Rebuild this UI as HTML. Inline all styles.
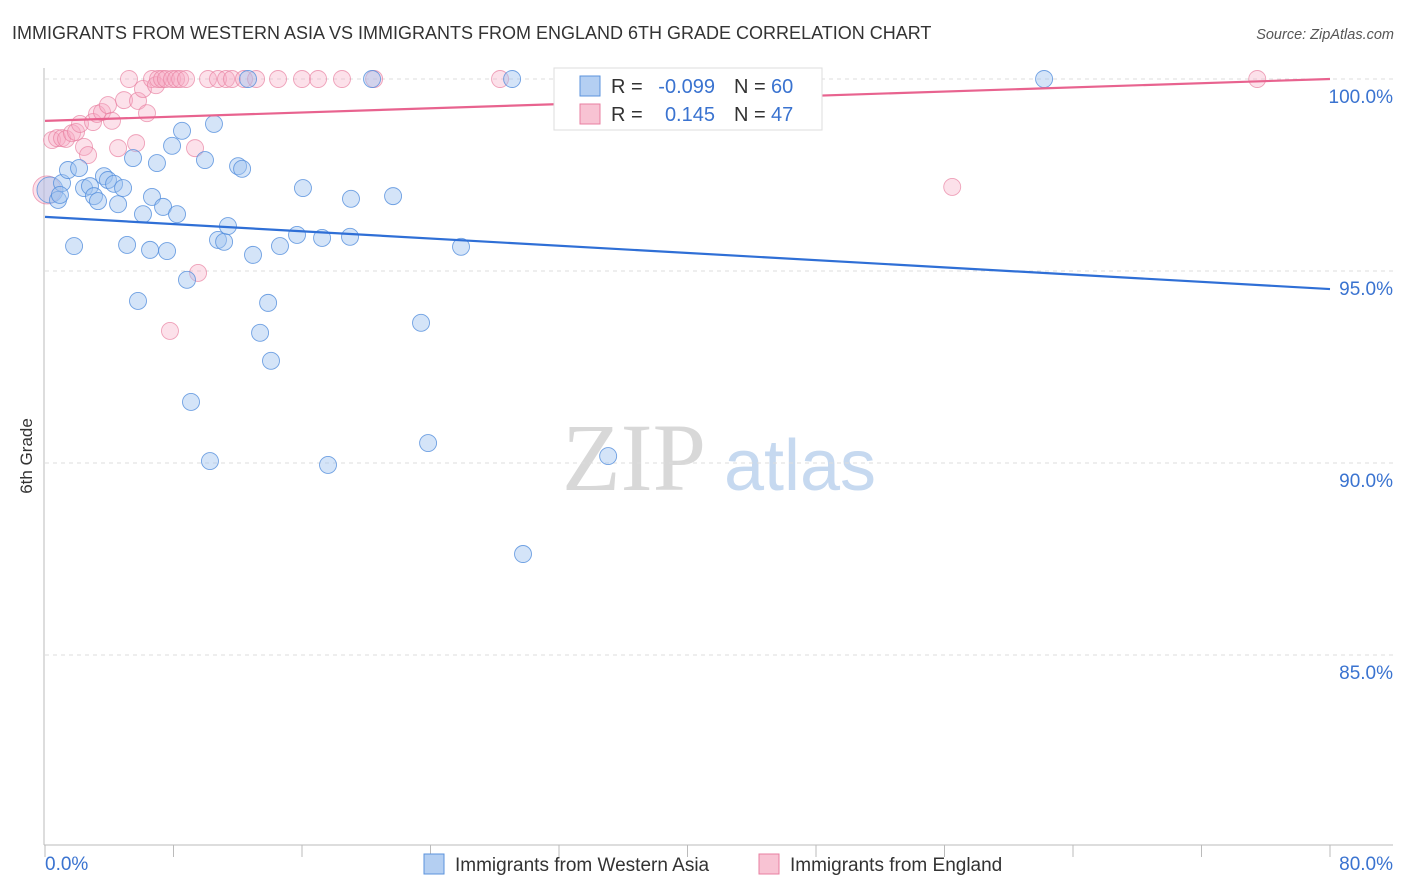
<!DOCTYPE html>
<html><head><meta charset="utf-8"><style>
body{margin:0;background:#fff;font-family:"Liberation Sans",sans-serif}
svg{display:block}
</style></head><body>
<svg id="c" width="1406" height="892" xmlns="http://www.w3.org/2000/svg">
<text x="12" y="39" font-size="18" fill="#333">IMMIGRANTS FROM WESTERN ASIA VS IMMIGRANTS FROM ENGLAND 6TH GRADE CORRELATION CHART</text>
<text x="1394" y="39" font-size="14.5" fill="#555" font-style="italic" text-anchor="end">Source: ZipAtlas.com</text>
<text x="32" y="456" font-size="17" fill="#333" text-anchor="middle" transform="rotate(-90 32 456)">6th Grade</text>
<g>
<text x="634" y="490" font-size="96" font-family="Liberation Serif,serif" fill="#d8d8d8" text-anchor="middle">ZIP</text>
<text x="800" y="490" font-size="72" fill="#c6d9f0" text-anchor="middle">atlas</text>
</g>
<g id="grid"></g><g id="axes"></g><g id="pts"></g><g id="lines"></g>
<g>
<rect x="554" y="68" width="268" height="62" fill="#fff" stroke="#ddd"/>
<rect x="580" y="76" width="20" height="20" fill="#b4cff2" stroke="#5b93dc"/>
<rect x="580" y="104" width="20" height="20" fill="#f8c3d3" stroke="#e87fa0"/>
<text x="611" y="93" font-size="20" fill="#333">R =</text>
<text x="715" y="93" font-size="20" fill="#3a73d0" text-anchor="end">-0.099</text>
<text x="734" y="93" font-size="20" fill="#333">N =</text>
<text x="771" y="93" font-size="20" fill="#3a73d0">60</text>
<text x="611" y="121" font-size="20" fill="#333">R =</text>
<text x="715" y="121" font-size="20" fill="#3a73d0" text-anchor="end">0.145</text>
<text x="734" y="121" font-size="20" fill="#333">N =</text>
<text x="771" y="121" font-size="20" fill="#3a73d0">47</text>
</g>
<g>
<rect x="424" y="854" width="20" height="20" fill="#b4cff2" stroke="#5b93dc"/>
<text x="455" y="871" font-size="19" fill="#333">Immigrants from Western Asia</text>
<rect x="759" y="854" width="20" height="20" fill="#f8c3d3" stroke="#e87fa0"/>
<text x="790" y="871" font-size="19" fill="#333">Immigrants from England</text>
</g>
</svg>
<script>
const blueX=[.31,.81,1.06,1.43,1.81,2.12,2.43,2.80,3.05,3.30,3.67,3.92,4.30,4.55,4.86,5.11,5.48,5.79,6.10,6.54,6.66,6.97,7.35,7.60,7.91,8.22,8.53,8.84,9.09,9.96,10.27,10.52,10.77,11.15,11.39,12.02,12.27,12.64,12.95,13.39,13.89,14.07,14.63,15.69,16.06,17.25,17.62,18.99,19.05,20.36,21.67,23.41,23.85,25.90,29.08,29.76,35.06,42.22,62.20,.93];
const blueY=[97.11,96.85,97.29,97.63,95.65,97.68,97.16,97.21,96.95,96.82,97.47,97.37,97.27,96.74,97.16,95.68,97.94,94.22,96.48,95.55,96.93,97.81,96.67,95.52,98.26,96.48,98.65,94.77,91.59,97.89,90.05,98.83,95.81,95.76,96.17,97.73,97.66,100,95.42,93.39,94.17,92.66,95.65,95.94,97.16,95.86,89.95,95.89,96.88,100,96.95,93.65,90.52,95.63,100,87.63,90.18,100,100,96.98];
const pinkX=[.12,.44,.75,1.06,1.31,1.68,1.93,2.18,2.43,2.68,2.99,3.24,3.55,3.92,4.17,4.55,4.92,5.23,5.67,5.79,6.10,6.35,6.66,6.91,7.04,7.29,7.53,7.78,7.91,8.16,8.41,8.78,9.34,9.53,10.15,10.77,11.27,11.64,12.39,13.14,14.51,16.00,17.00,18.49,20.49,28.33,33.00,56.48,75.47];
const pinkY=[97.11,98.41,98.46,98.46,98.44,98.59,98.62,98.83,98.23,98.02,98.88,99.09,99.14,99.32,98.91,98.20,99.45,100,98.33,99.43,99.74,99.11,100,99.84,100,100,100,93.44,100,100,100,100,98.20,94.95,100,100,100,100,100,100,100,100,100,100,100,100,100,97.19,100];
const blueTrend=[96.41,94.53];
const pinkTrend=[98.91,100.0];
const yTicks=[100,95,90,85];
const xTickVals=[0,8,16,24,32,40,48,56,64,72,80];
const NS='http://www.w3.org/2000/svg';
const X=v=>45+v/80*1285, Y=v=>79+(100-v)/5*192;
function mk(p,t,a){const e=document.createElementNS(NS,t);for(const k in a)e.setAttribute(k,a[k]);p.appendChild(e);return e;}
const grid=document.getElementById('grid'),axes=document.getElementById('axes'),pts=document.getElementById('pts'),lines=document.getElementById('lines');
yTicks.forEach(v=>{
 const l=mk(grid,'line',{x1:45,x2:1393,y1:Y(v),y2:Y(v),stroke:'#ddd','stroke-dasharray':'4 4'});
 
 
 const t=mk(axes,'text',{x:1393,y:Y(v)+24,'font-size':19,fill:'#3a73d0','text-anchor':'end'});
 t.textContent=v.toFixed(1)+'%';
 
 
});
mk(axes,'line',{x1:44,x2:44,y1:68,y2:845,stroke:'#bbb'});
mk(axes,'line',{x1:44,x2:1393,y1:845,y2:845,stroke:'#bbb'});
xTickVals.forEach(v=>{const l=mk(axes,'line',{x1:X(v),x2:X(v),y1:845,y2:857,stroke:'#bbb'});
 
 });
[[0,'start',45,'0.0%'],[80,'end',1393,'80.0%']].forEach(a=>{const t=mk(axes,'text',{x:a[2],y:870,'font-size':19,fill:'#3a73d0','text-anchor':a[1]});t.textContent=a[3];
 
 });
pinkX.forEach((v,i)=>{const c=mk(pts,'circle',{cx:X(v),cy:Y(pinkY[i]),r:i==0?14:8.5,fill:'rgba(246,170,195,0.35)',stroke:'rgba(232,127,160,0.7)','stroke-width':0.9});
 
 });
blueX.forEach((v,i)=>{const c=mk(pts,'circle',{cx:X(v),cy:Y(blueY[i]),r:i==0?13:8.5,fill:'rgba(160,196,240,0.45)',stroke:'rgba(80,140,220,0.8)','stroke-width':0.9});
 
 });
const bl=mk(lines,'line',{x1:X(0),x2:X(80),y1:Y(blueTrend[0]),y2:Y(blueTrend[1]),stroke:'#2f6fd6','stroke-width':2.2});


const pl=mk(lines,'line',{x1:X(0),x2:X(80),y1:Y(pinkTrend[0]),y2:Y(pinkTrend[1]),stroke:'#e8638f','stroke-width':2.2});


</script>
</body></html>
